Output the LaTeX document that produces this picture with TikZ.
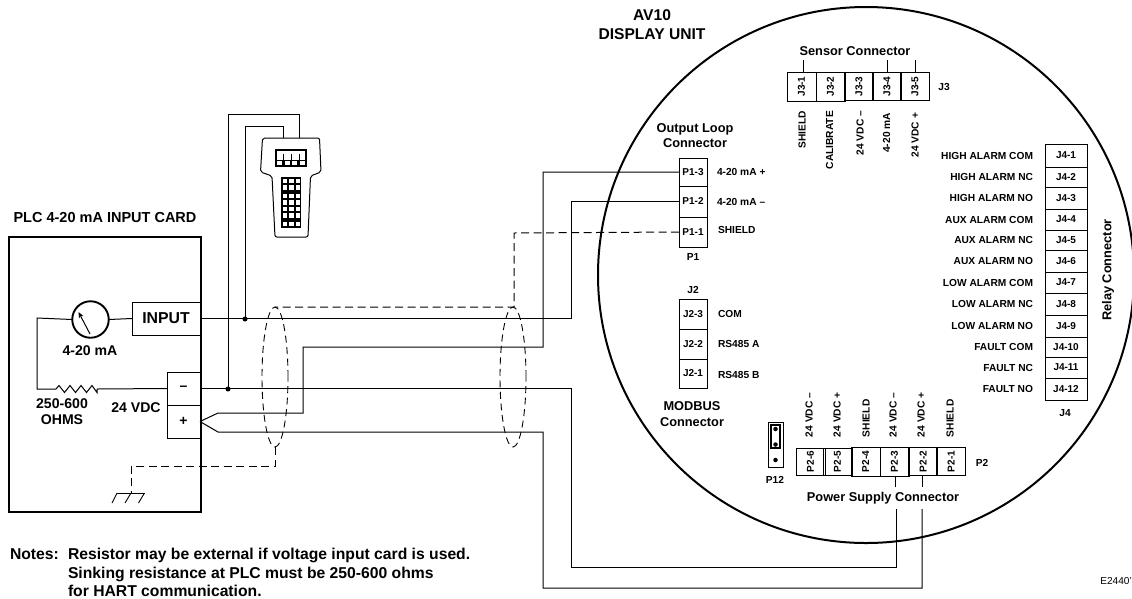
\documentclass[tikz,border=0pt]{standalone}
\usepackage{fontspec}
\setmainfont{Liberation Sans}
\usetikzlibrary{shapes.geometric,arrows.meta}
\newcommand{\Term}[7][]{%
  \pgfmathsetmacro{\tcx}{(#3+#5)/2}\pgfmathsetmacro{\tcy}{(#4+#6)/2}%
  \pgfmathsetmacro{\tw}{#5-#3}\pgfmathsetmacro{\th}{#6-#4}%
  \node[term,#1,minimum width=\tw pt,minimum height=\th pt] (#2) at (\tcx,\tcy) {#7};}
\tikzset{
  term/.style={draw,line width=1pt,inner sep=0pt,outer sep=0pt,font=\fontsize{10}{12}\selectfont\bfseries},
  lab/.style={inner sep=0pt,outer sep=0pt,font=\fontsize{10.2}{12}\selectfont\bfseries},
  head/.style={inner sep=0pt,outer sep=0pt,align=center,font=\fontsize{12.8}{15.3}\selectfont\bfseries},
  midhead/.style={inner sep=0pt,outer sep=0pt,align=center,font=\fontsize{14.1}{16}\selectfont\bfseries},
  bighead/.style={inner sep=0pt,outer sep=0pt,align=center,font=\fontsize{15.6}{19}\selectfont\bfseries},
  notefont/.style={inner sep=0pt,outer sep=0pt,anchor=base west,font=\fontsize{15.7}{18}\selectfont\bfseries},
  wire/.style={line width=1pt,line join=miter},
  shieldline/.style={line width=1pt,dash pattern=on 8pt off 4.5pt},
  shieldoval/.style={draw,ellipse,inner sep=0pt,outer sep=0pt,line width=.9pt,dash pattern=on 7pt off 4.5pt,minimum width=26pt,minimum height=140pt},
  dot/.style={circle,fill=black,inner sep=0pt,outer sep=0pt,minimum size=5pt},
}
\begin{document}
\begin{tikzpicture}[x=1pt,y=-1pt]
\useasboundingbox (0,0) rectangle (1132,598);
\clip (0,0) rectangle (1132,598);
% display unit outline
\node[draw,circle,line width=2pt,inner sep=0pt,outer sep=0pt,minimum size=536pt] (unit) at (866,275) {};
\node[bighead] (unitname) at (652,25) {AV10\\DISPLAY UNIT};
% PLC card
\node[draw,line width=2pt,inner sep=0pt,outer sep=0pt,minimum width=192pt,minimum height=275pt] (card) at (105,374.5) {};
\node[head,font=\fontsize{14.5}{17}\selectfont\bfseries] (cardname) at (105,218) {PLC 4-20 mA INPUT CARD};
\node[draw,circle,line width=1.9pt,inner sep=0pt,outer sep=0pt,minimum size=36.5pt] (meter) at (90.5,319.5) {};
\coordinate (needleA) at (90,334);
\coordinate (needleB) at (78.5,312);
\draw[line width=1pt,-{Stealth[length=6pt,width=5pt]}] (needleA) -- (needleB);
\node[midhead] (metername) at (90,351) {4-20 mA};
\Term[font=\fontsize{15.8}{18}\selectfont\bfseries]{input}{132}{302}{200}{335}{INPUT}
\Term[font=\fontsize{14}{16}\selectfont\bfseries]{minus}{167}{372}{200}{405}{–}
\Term[font=\fontsize{14}{16}\selectfont\bfseries]{plus}{167}{405}{200}{438}{+}
\node[midhead] (res) at (62,412) {250-600\\OHMS};
\node[midhead] (vdc) at (136,408) {24 VDC};
% internal wires
\coordinate (resL) at (56,389);
\coordinate (resR) at (97,389);
\coordinate (cornerL) at (37,318);
\draw[wire] (input.west) -- (meter.east);
\draw[wire] (meter.west) -- (cornerL) |- (resL);
\draw[wire] (resL) -- (59,385.5) -- (64.5,392.5) -- (70,385.5) -- (75.5,392.5) -- (81,385.5) -- (86.5,392.5) -- (92,385.5) -- (97,392.5) -- (resR) -- (minus.west);
% ground
\coordinate (gnd) at (131,493);
\coordinate (gndL) at (117,493);
\coordinate (gndR) at (144.5,493);
\draw[line width=.9pt] (gndL) -- (gndR);
\draw[line width=.9pt] (gndL) -- (112,503);
\draw[line width=.9pt] (gnd) -- (125,503);
\draw[line width=.9pt] (gndR) -- (138.5,503);
% handheld communicator
\coordinate (hhA) at (283,138);
\coordinate (hhB) at (299,138);
\draw[line width=1pt,rounded corners=2pt] (262.5,138) -- (319.5,138) -- (321,172) -- (310.5,176) -- (308,237) -- (275,237) -- (272,176) -- (260.5,172) -- cycle;
\fill (275,149) rectangle (307,167);
\fill[white] (277,151) rectangle (305,159.5);
\draw[line width=.7pt] (283,154) -- (283,160) (291,154) -- (291,160) (299,154) -- (299,160);
\foreach \cx in {277,284.8,292.4,300} \fill[white] (\cx,161.3) rectangle ++(5,4);
\fill (281,177) rectangle (301,228);
\foreach \ry/\rh in {178.5/4.7,185/4.7,193.5/4.7,200/4.7,206.5/4.7,213/4.7,221.5/4.5}
  \foreach \cx in {282.6,289.2,295.8} \fill[white] (\cx,\ry) rectangle ++(4.6,\rh);
% AV10: P1
\Term{p13}{679}{158}{707}{186}{P1-3}
\Term{p12}{679}{186}{707}{217}{P1-2}
\Term{p11}{679}{217}{707}{247}{P1-1}
\node[head] (p1head) at (695,135.5) {Output Loop\\Connector};
\node[lab,anchor=west] (l13) at (717,172) {4-20 mA +};
\node[lab,anchor=west] (l12) at (717,202) {4-20 mA –};
\node[lab,anchor=west] (l11) at (718,230) {SHIELD};
\node[lab] (p1name) at (693,257) {P1};
% J2
\node[lab] (j2name) at (693,290) {J2};
\Term{j23}{679}{299}{707}{329}{J2-3}
\Term{j22}{679}{329}{707}{359}{J2-2}
\Term{j21}{679}{359}{707}{388}{J2-1}
\node[lab,anchor=west] (lj3) at (718,314) {COM};
\node[lab,anchor=west] (lj2) at (718,344) {RS485 A};
\node[lab,anchor=west] (lj1) at (718,375) {RS485 B};
\node[head] (j2head) at (692,414) {MODBUS\\Connector};
% J3
\node[head] (j3head) at (855,51) {Sensor Connector};
\Term[rotate=90]{j31}{787}{72}{816}{101}{J3-1}
\Term[rotate=90]{j32}{816}{72}{845}{101}{J3-2}
\Term[rotate=90]{j33}{845}{72}{873}{101}{J3-3}
\Term[rotate=90]{j34}{873}{72}{901}{101}{J3-4}
\Term[rotate=90]{j35}{901}{72}{929}{101}{J3-5}
\node[lab] (j3name) at (944,87) {J3};
\coordinate (s1) at (803,60);
\coordinate (s4) at (887,60);
\coordinate (s5) at (915,60);
\draw[line width=.9pt] (s1) -- (s1 |- j31.east) (s4) -- (s4 |- j34.east) (s5) -- (s5 |- j35.east);
\foreach \nm/\cx/\ty/\tx in {ls1/802/111/SHIELD,ls2/829.5/111/CALIBRATE,ls3/860/111/24 VDC –,ls4/886.5/113/4-20 mA,ls5/915/113/24 VDC +}
  \node[lab,rotate=90,anchor=east] (\nm) at (\cx,\ty) {\tx};
% J4
\foreach \nm/\ya/\yb/\tx/\lb in {
 a1/144/167/J4-1/HIGH ALARM COM,a2/167/187/J4-2/HIGH ALARM NC,a3/187/209/J4-3/HIGH ALARM NO,
 a4/209/230/J4-4/AUX ALARM COM,a5/230/250/J4-5/AUX ALARM NC,a6/250/272/J4-6/AUX ALARM NO,
 a7/272/293/J4-7/LOW ALARM COM,a8/293/315/J4-8/LOW ALARM NC,a9/315/337/J4-9/LOW ALARM NO,
 a10/337/357/J4-10/FAULT COM,a11/357/378/J4-11/FAULT NC,a12/378/400/J4-12/FAULT NO}{
  \Term{\nm}{1045}{\ya}{1087}{\yb}{\tx}
  \node[lab,anchor=east] (\nm l) at ([xshift=-12pt]\nm.west) {\lb};
}
\node[lab] (j4name) at (1065,413) {J4};
\node[head,rotate=90] (j4head) at (1108,270) {Relay Connector};
% P2
\Term[rotate=90]{p26}{797}{447}{824}{476}{P2-6}
\Term[rotate=90]{p25}{824}{447}{851}{476}{P2-5}
\Term[rotate=90]{p24}{851}{447}{880}{476}{P2-4}
\Term[rotate=90]{p23}{880}{447}{909}{476}{P2-3}
\Term[rotate=90]{p22}{909}{447}{937}{476}{P2-2}
\Term[rotate=90]{p21}{937}{447}{965}{476}{P2-1}
\foreach \nm/\cx/\tx in {lp6/809/24 VDC –,lp5/837/24 VDC +,lp4/866/SHIELD,lp3/893/24 VDC –,lp2/921/24 VDC +,lp1/950/SHIELD}
  \node[lab,rotate=90,anchor=west] (\nm) at (\cx,437) {\tx};
\node[lab] (p2name) at (982,463) {P2};
\node[head] (p2head) at (883,498) {Power Supply Connector};
\coordinate (stubA) at (895,487);
\coordinate (stubB) at (922,487);
\draw[line width=.9pt] (stubA |- p23.west) -- (stubA) (stubB |- p22.west) -- (stubB);
% P12
\node[draw,line width=.8pt,inner sep=0pt,outer sep=0pt,minimum width=15pt,minimum height=45pt] (p12j) at (775.5,444.5) {};
\node[draw,line width=1.8pt,inner sep=0pt,outer sep=0pt,minimum width=9pt,minimum height=23pt] (jumper) at (775.5,436.5) {};
\node[dot,minimum size=4.5pt] (pinA) at (775.5,429) {};
\node[dot,minimum size=4.5pt] (pinB) at (775.5,444.5) {};
\node[dot,minimum size=4.5pt] (pinC) at (775.5,460) {};
\node[lab] (p12name) at (775,480) {P12};
% field wires
\coordinate (xA) at (571,300);
\coordinate (xB) at (543,300);
\coordinate (xC) at (303,380);
\coordinate (yA) at (400,567);
\coordinate (yB) at (400,588);
\coordinate (pA) at (896,509);
\coordinate (pB) at (922,509);
\coordinate (tA) at (218,413);
\coordinate (tB) at (218,432);
\draw[wire] (input.east) -- (input.east -| xA) -- (xA |- p12.west) -- (p12.west);
\draw[wire] (plus.east) -- (tA) -- (tA -| xC) -- (xC |- 0,347) -- (xB |- 0,347) -- (xB |- p13.west) -- (p13.west);
\draw[wire] (plus.east) -- (tB) -- (tB -| xB) -- (xB |- yB) -- (yB -| pB) -- (pB);
\draw[wire] (minus.east) -- (minus.east -| xA) -- (xA |- yA) -- (yA -| pA) -- (pA);
% HART tap
\coordinate (tapTopA) at (228,114);
\coordinate (tapTopB) at (245,126);
\node[dot] (dotA) at (228,389) {};
\node[dot] (dotB) at (245,319) {};
\draw[wire] (dotA) -- (tapTopA) -| (hhB);
\draw[wire] (dotB) -- (tapTopB) -| (hhA);
% shields
\node[shieldoval] (sh1) at (275,377) {};
\node[shieldoval] (sh2) at (513,377) {};
\coordinate (sh2up) at (514,233);
\coordinate (sh1down) at (275,466);
\draw[shieldline] (p11.west) -- (sh2up) -- (sh2up |- sh2.north) -- (sh1.north);
\draw[shieldline] (sh1.south) -- (sh1down) -- (gnd |- sh1down) -- (gnd);
% notes
\node[notefont] (notes) at (10,559) {Notes:};
\node[notefont] (note1) at (68,559) {Resistor may be external if voltage input card is used.};
\node[notefont] (note2) at (68,578) {Sinking resistance at PLC must be 250-600 ohms};
\node[notefont] (note3) at (68,596.5) {for HART communication.};
\node[anchor=base east,inner sep=0pt,font=\fontsize{10.1}{12}\selectfont] (code) at (1132,584) {E2440'};
\end{tikzpicture}
\end{document}
